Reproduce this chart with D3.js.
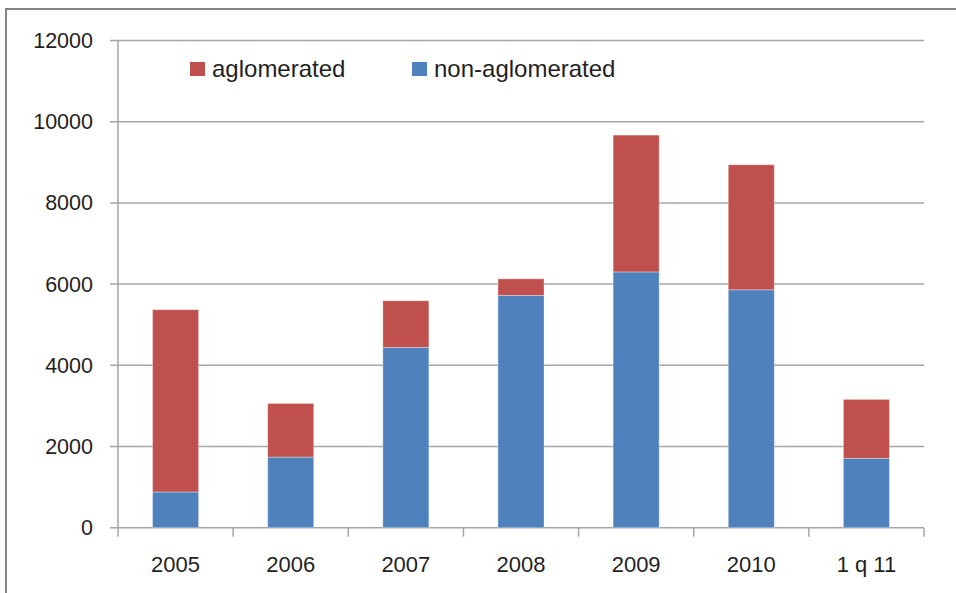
<!DOCTYPE html>
<html>
<head>
<meta charset="utf-8">
<script src="https://cdn.jsdelivr.net/npm/d3@7"></script>
<style>
  body { margin: 0; background: #fff; }
  svg { display: block; font-family: "Liberation Sans", Arial, sans-serif; }
</style>
</head>
<body>
<div id="chart"></div>
<script>
// data
var categories = ["2005", "2006", "2007", "2008", "2009", "2010", "1 q 11"];
var nonAglomerated = [880, 1740, 4440, 5720, 6300, 5860, 1710];
var aglomerated = [4490, 1320, 1150, 410, 3370, 3080, 1450];
var yTicks = [0, 2000, 4000, 6000, 8000, 10000, 12000];

var width = 956, height = 593;
var plot = {left: 118, right: 924, top: 40.5, bottom: 527.7};

var svg = d3.select("#chart").append("svg")
    .attr("width", width)
    .attr("height", height);

// outer chart frame (only top and left edges are in view)
svg.append("path")
    .attr("d", "M6,600 L6,9 L960,9")
    .attr("fill", "none")
    .attr("stroke", "#858585")
    .attr("stroke-width", 2);

var x = d3.scaleBand()
    .domain(categories)
    .range([plot.left, plot.right])
    .paddingInner(0.6)
    .paddingOuter(0.3);

var y = d3.scaleLinear()
    .domain([0, 12000])
    .range([plot.bottom, plot.top]);

// gridlines
svg.append("g")
    .selectAll("line")
    .data(yTicks)
    .enter()
    .append("line")
    .attr("x1", plot.left - 8)
    .attr("x2", plot.right)
    .attr("y1", function (d) { return y(d); })
    .attr("y2", function (d) { return y(d); })
    .attr("stroke", "#a6a6a6")
    .attr("stroke-width", 1.5);

// y axis line
svg.append("line")
    .attr("x1", plot.left).attr("x2", plot.left)
    .attr("y1", plot.top).attr("y2", plot.bottom)
    .attr("stroke", "#a6a6a6")
    .attr("stroke-width", 1.5);

// y labels
svg.append("g")
    .selectAll("text")
    .data(yTicks)
    .enter()
    .append("text")
    .attr("x", 93)
    .attr("y", function (d) { return y(d); })
    .attr("dy", "0.35em")
    .attr("text-anchor", "end")
    .attr("font-size", 21.5)
    .attr("fill", "#1f1f1f")
    .text(function (d) { return d; });

// stack the two series
var rows = categories.map(function (c, i) {
    return {cat: c, non: nonAglomerated[i], agl: aglomerated[i]};
});
var stacked = d3.stack().keys(["non", "agl"])(rows);
var colors = {non: "#4f81bd", agl: "#c0504d"};

svg.append("g")
    .selectAll("g")
    .data(stacked)
    .enter()
    .append("g")
    .attr("fill", function (s) { return colors[s.key]; })
    .selectAll("rect")
    .data(function (s) { return s; })
    .enter()
    .append("rect")
    .attr("x", function (d) { return x(d.data.cat); })
    .attr("width", x.bandwidth())
    .attr("y", function (d) { return y(d[1]); })
    .attr("height", function (d) { return y(d[0]) - y(d[1]); })
    .attr("stroke", "#ffffff")
    .attr("stroke-opacity", 0.35)
    .attr("stroke-width", 1);

// x ticks at band boundaries
var step = x.step();
var bounds = d3.range(categories.length + 1).map(function (i) {
    return plot.left + i * (plot.right - plot.left) / categories.length;
});
svg.append("g")
    .selectAll("line")
    .data(bounds)
    .enter()
    .append("line")
    .attr("x1", function (d) { return d; })
    .attr("x2", function (d) { return d; })
    .attr("y1", plot.bottom)
    .attr("y2", plot.bottom + 9)
    .attr("stroke", "#a6a6a6")
    .attr("stroke-width", 1.5);

// x labels
svg.append("g")
    .selectAll("text")
    .data(categories)
    .enter()
    .append("text")
    .attr("x", function (d) { return x(d) + x.bandwidth() / 2; })
    .attr("y", 564)
    .attr("dy", "0.35em")
    .attr("text-anchor", "middle")
    .attr("font-size", 22)
    .attr("fill", "#1f1f1f")
    .text(function (d) { return d; });

// legend
var legendItems = [
    {label: "aglomerated", key: "agl", x: 190},
    {label: "non-aglomerated", key: "non", x: 412}
];
var legend = svg.append("g")
    .selectAll("g")
    .data(legendItems)
    .enter()
    .append("g")
    .attr("transform", function (d) { return "translate(" + d.x + ",62)"; });

legend.append("rect")
    .attr("width", 15)
    .attr("height", 14)
    .attr("fill", function (d) { return colors[d.key]; });

legend.append("text")
    .attr("x", 22)
    .attr("y", 7)
    .attr("dy", "0.35em")
    .attr("font-size", 24)
    .attr("fill", "#1f1f1f")
    .text(function (d) { return d.label; });
</script>
</body>
</html>
